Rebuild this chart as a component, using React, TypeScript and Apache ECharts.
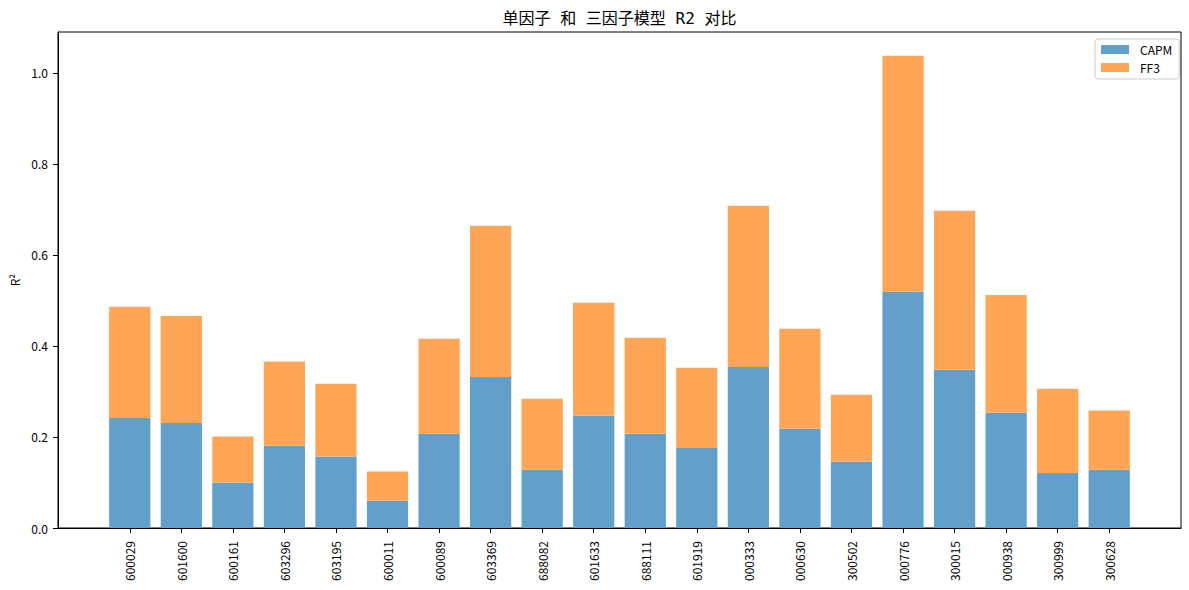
import React, { useEffect, useRef } from "react";
import * as echarts from "echarts";

const categories = [
  "600029", "601600", "600161", "603296", "603195", "600011", "600089",
  "603369", "688082", "601633", "688111", "601919", "000333", "000630",
  "300502", "000776", "300015", "000938", "300999", "300628",
];
const capmR2 = [
  0.242, 0.231, 0.1, 0.181, 0.157, 0.06, 0.207, 0.332, 0.128, 0.247,
  0.207, 0.176, 0.354, 0.218, 0.146, 0.519, 0.348, 0.253, 0.121, 0.128,
];
const ff3R2 = [
  0.244, 0.235, 0.101, 0.185, 0.16, 0.064, 0.209, 0.332, 0.156, 0.248,
  0.211, 0.176, 0.354, 0.22, 0.147, 0.519, 0.349, 0.259, 0.185, 0.13,
];
const yTicks = [0, 0.2, 0.4, 0.6, 0.8, 1.0];
const seriesNames = ["CAPM", "FF3"];
const titleText = "单因子 和 三因子模型 R2 对比";
const yName = "R²";

export default function App() {
  const ref = useRef<HTMLDivElement>(null);
  useEffect(() => {
    document.body.style.margin = "0";
    const chart = echarts.init(ref.current!, null, { renderer: "svg" });
    const font = "'Noto Sans CJK SC', 'DejaVu Sans', sans-serif";
    const titleFont = "'DejaVu Sans Mono', 'Noto Sans CJK SC', sans-serif";
    chart.setOption({
      animation: false,
      backgroundColor: "#ffffff",
      textStyle: { fontFamily: font },
      grid: [
        {
          left: 58, top: 32, width: 1123, height: 496,
          show: true, borderColor: "#000", borderWidth: 1,
          backgroundColor: "transparent",
        },
        { left: 104, top: 32, width: 1031, height: 496 },
      ],
      xAxis: [
        {
          gridIndex: 0, type: "value", min: 0, max: 1, z: 10,
          axisLine: { show: true, lineStyle: { color: "#000", width: 1 } },
          axisTick: { show: false }, axisLabel: { show: false },
          splitLine: { show: false },
        },
        {
          gridIndex: 1, type: "category", data: categories,
          axisLine: { show: false },
          axisTick: {
            show: true, alignWithLabel: true, length: 5,
            lineStyle: { color: "#000", width: 1 },
          },
          axisLabel: {
            rotate: 90, margin: 13, fontSize: 12, color: "#000",
            interval: 0, fontFamily: font,
          },
        },
      ],
      yAxis: [
        {
          gridIndex: 0, type: "value", min: 0, max: 1.09, z: 10,
          axisLine: { show: true, lineStyle: { color: "#000", width: 1 } },
          axisTick: {
            show: true, length: 5, customValues: yTicks,
            lineStyle: { color: "#000", width: 1 },
          },
          axisLabel: {
            customValues: yTicks, margin: 10, fontSize: 12, color: "#000",
            fontFamily: font,
            formatter: (v: number) => v.toFixed(1),
          },
          splitLine: { show: false },
          name: yName, nameLocation: "middle", nameGap: 36,
          nameTextStyle: { fontSize: 12, color: "#000", fontFamily: font },
        },
        { gridIndex: 1, type: "value", min: 0, max: 1.09, show: false },
      ],
      legend: {
        orient: "vertical", left: 1095, top: 39, data: seriesNames,
        itemWidth: 28, itemHeight: 9, itemGap: 5, icon: "rect",
        padding: [4, 7, 5, 6], borderColor: "#cccccc", borderWidth: 1,
        borderRadius: 3, backgroundColor: "#fff",
        textStyle: {
          fontSize: 12, color: "#000", lineHeight: 13,
          padding: [0, 0, 0, 6], fontFamily: font,
        },
      },
      graphic: [
        {
          type: "text", x: 619.5, y: 18,
          style: {
            text: titleText, fontSize: 16, fontFamily: titleFont, fill: "#000",
            align: "center", verticalAlign: "middle",
          },
        },
      ],
      series: [
        {
          name: seriesNames[0], type: "bar", xAxisIndex: 1, yAxisIndex: 1,
          stack: "r2", data: capmR2, barWidth: "80%",
          itemStyle: { color: "#62a0cb" },
        },
        {
          name: seriesNames[1], type: "bar", xAxisIndex: 1, yAxisIndex: 1,
          stack: "r2", data: ff3R2, barWidth: "80%",
          itemStyle: { color: "#ffa556" },
        },
      ],
    });
    return () => chart.dispose();
  }, []);
  return <div ref={ref} style={{ width: 1189, height: 590 }} />;
}
